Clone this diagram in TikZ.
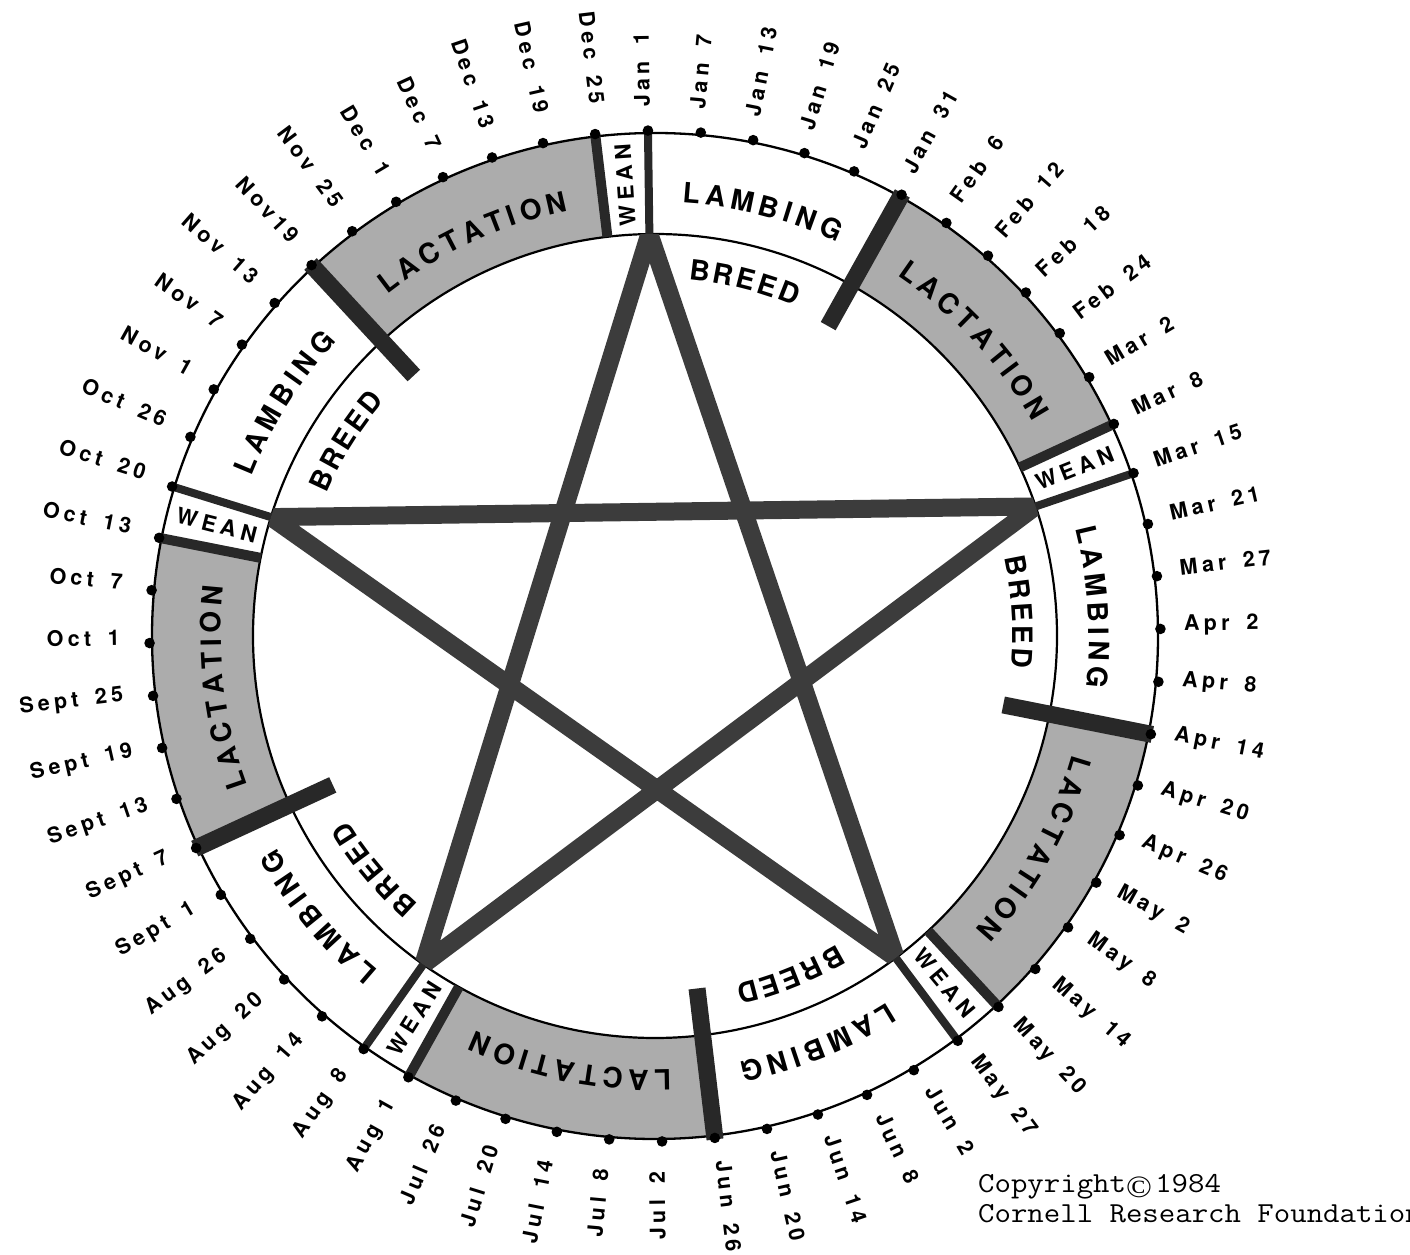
\documentclass[tikz,border=0pt]{standalone}
\usepackage{fontspec}
\usepackage{graphicx}
\newfontfamily\datefont{TeX Gyre Heros}[LetterSpace=20]
\newfontfamily\ringfont{TeX Gyre Heros}
\newfontfamily\weanfont{TeX Gyre Heros}[LetterSpace=22]
\newfontfamily\symfont{Liberation Serif}
\definecolor{lact}{RGB}{172,172,172}
\definecolor{starc}{RGB}{60,60,60}
\definecolor{barc}{RGB}{40,40,40}
\newcommand\dgap{\ \hspace{0.3em}}
\newcommand\ringtf{\ringfont\bfseries\fontsize{28}{30}\selectfont}
\newdimen\arcw
\newdimen\arctot
\newcount\chn
% #1 radius, #2 middle angle, #3 letter spacing (pt), #4 font, #5 letters
\newcommand\arclabel[5]{%
  \global\arctot=0pt
  \foreach \ch in {#5}{%
    \global\advance\arctot by \csname lw-\ch\endcsname
    \global\advance\arctot by #3pt
  }%
  \global\advance\arctot by -#3pt
  \pgfmathsetmacro\arccur{#2 + (\the\arctot/2)/(#1)*180/pi}%
  \global\let\arccurg\arccur
  \foreach \ch in {#5}{%
    \global\arcw=\csname lw-\ch\endcsname
    \pgfmathsetmacro\arcang{\arccurg - (\the\arcw/2)/(#1)*180/pi}%
    \global\advance\chn by 1
    \node[ringtxt, rotate=\arcang-90] (c\the\chn) at (\arcang:#1) {#4\ch};
    \pgfmathsetmacro\arcnext{\arccurg - (\the\arcw+#3pt)/(#1)*180/pi}%
    \global\let\arccurg\arcnext
  }%
}
\tikzset{
  ringtxt/.style={inner sep=0pt, anchor=base},
  datelbl/.style={inner sep=0pt, font=\datefont\bfseries\fontsize{21.5}{23}\selectfont},
  weanlbl/.style={inner sep=0pt, font=\weanfont\bfseries\fontsize{22}{24}\selectfont},
  copytxt/.style={inner sep=0pt, anchor=base west, font=\ttfamily\fontsize{29}{30}\selectfont},
  outerc/.style={line width=2.3pt},
  innerc/.style={line width=2.2pt},
  thinbar/.style={barc, line width=8pt},
  medbar/.style={barc, line width=10pt},
  thickbar/.style={barc, line width=17pt},
  starline/.style={starc, line width=18pt},
  lactfill/.style={fill=lact},
}
\begin{document}%
\foreach \ch in {L,A,M,B,I,N,G,C,T,O,R,E,D}{%
  \setbox0=\hbox{\ringtf\ch}%
  \expandafter\xdef\csname lw-\ch\endcsname{\the\wd0}%
}%
\begin{tikzpicture}[x=1pt,y=1pt]
\useasboundingbox (0,0) rectangle (1410,1254);
\fill[white] (0,0) rectangle (1410,1254);
\begin{scope}[shift={(655,618)}]
  % lactation fills
  \foreach \k in {0,...,4}{
    \pgfmathsetmacro\a{90.8-72*\k}
    \pgfmathsetmacro\b{\a-66}
    \pgfmathsetmacro\c{\a-30}
    \fill[lactfill] (\b:402) arc[start angle=\b, end angle=\c, radius=402]
      -- (\c:503) arc[start angle=\c, end angle=\b, radius=503] -- cycle;
  }
  % circles
  \draw[outerc] (0,0) circle[radius=503];
  \draw[innerc] (0,0) circle[radius=402];
  % boundary bars
  \foreach \k in {0,...,4}{
    \pgfmathsetmacro\a{90.8-72*\k}
    \pgfmathsetmacro\w{\a+6}
    \pgfmathsetmacro\c{\a-30}
    \coordinate (wi\k) at (\w:402);
    \coordinate (wo\k) at (\w:505);
    \coordinate (v\k) at (\a:402);
    \coordinate (vo\k) at (\a:505);
    \coordinate (li\k) at (\c:355);
    \coordinate (lo\k) at (\c:507);
    \draw[medbar] (wi\k) -- (wo\k);
    \draw[thinbar] (v\k) -- (vo\k);
    \draw[thickbar] (li\k) -- (lo\k);
  }
  % star
  \begin{scope}
    \clip (0,0) circle[radius=402];
    \draw[starline] (v0) -- (v2) -- (v4) -- (v1) -- (v3) -- cycle;
  \end{scope}
  % dots
  \foreach \i in {0,...,59}{
    \fill (90.8-6*\i:505.5) circle[radius=5.3];
  }
  % date labels
  \foreach \t [count=\i from 0] in {{Jan\dgap 1},{Jan\dgap 7},{Jan\dgap 13},{Jan\dgap 19},{Jan\dgap 25},{Jan\dgap 31},{Feb\dgap 6},{Feb\dgap 12},{Feb\dgap 18},{Feb\dgap 24},{Mar\dgap 2},{Mar\dgap 8},{Mar\dgap 15},{Mar\dgap 21},{Mar\dgap 27},{Apr\dgap 2},{Apr\dgap 8},{Apr\dgap 14},{Apr\dgap 20},{Apr\dgap 26},{May\dgap 2},{May\dgap 8},{May\dgap 14},{May\dgap 20},{May\dgap 27},{Jun\dgap 2},{Jun\dgap 8},{Jun\dgap 14},{Jun\dgap 20},{Jun\dgap 26},{Jul\dgap 2},{Jul\dgap 8},{Jul\dgap 14},{Jul\dgap 20},{Jul\dgap 26},{Aug\dgap 1},{Aug\dgap 8},{Aug\dgap 14},{Aug\dgap 20},{Aug\dgap 26},{Sept\dgap 1},{Sept\dgap 7},{Sept\dgap 13},{Sept\dgap 19},{Sept\dgap 25},{Oct\dgap 1},{Oct\dgap 7},{Oct\dgap 13},{Oct\dgap 20},{Oct\dgap 26},{Nov\dgap 1},{Nov\dgap 7},{Nov\dgap 13},{Nov19},{Nov\dgap 25},{Dec\dgap 1},{Dec\dgap 7},{Dec\dgap 13},{Dec\dgap 19},{Dec\dgap 25}}{
    \pgfmathsetmacro\ang{90.8-6*\i}
    \ifnum\i<30
      \node[datelbl, rotate=\ang, anchor=mid west] (d\i) at (\ang:529) {\t};
    \else
      \node[datelbl, rotate=\ang+180, anchor=mid east] (d\i) at (\ang:535) {\t};
    \fi
  }
  % ring labels
  \foreach \k in {0,...,4}{
    \pgfmathsetmacro\a{90.8-72*\k}
    \pgfmathsetmacro\lm{\a-15}
    \pgfmathsetmacro\lc{\a-48}
    \arclabel{434}{\lm}{5}{\ringtf}{L,A,M,B,I,N,G}
    \arclabel{434}{\lc}{5}{\ringtf}{L,A,C,T,A,T,I,O,N}
    \arclabel{358}{\lm}{3}{\ringtf}{B,R,E,E,D}
  }
  % wean labels
  \node[weanlbl, rotate=93.8] (w0) at (93.8:452) {WEAN};
  \node[weanlbl, rotate=21.8] (w1) at (21.8:452) {WEAN};
  \node[weanlbl, rotate=-50.2] (w2) at (-50.2:452) {WEAN};
  \node[weanlbl, rotate=57.8] (w3) at (-122.2:452) {WEAN};
  \node[weanlbl, rotate=-14.2] (w4) at (165.8:452) {WEAN};
\end{scope}
% copyright
\node[copytxt] (cp1) at (978,62) {\scalebox{1.1}[1]{Copyright\raisebox{-5pt}{\symfont\fontsize{31}{31}\selectfont\textcopyright}\hspace{3pt}1984}};
\node[copytxt] (cp2) at (978,32) {\scalebox{1.1}[1]{Cornell Research Foundation}};
\end{tikzpicture}
\end{document}
